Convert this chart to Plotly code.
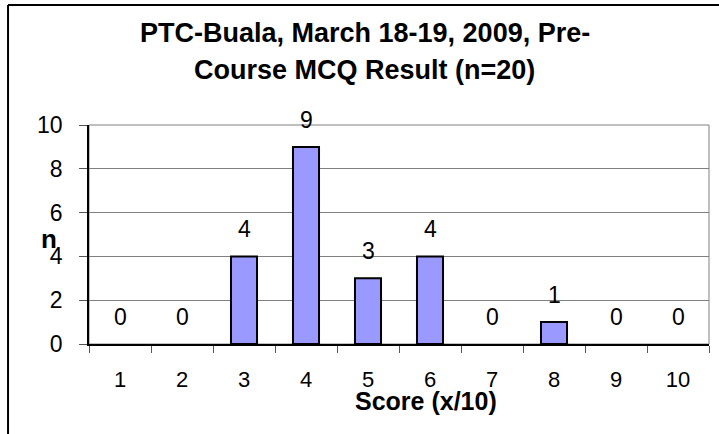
import plotly.graph_objects as go

scores = ["1", "2", "3", "4", "5", "6", "7", "8", "9", "10"]
counts = [0, 0, 4, 9, 3, 4, 0, 1, 0, 0]
y_ticks = [0, 2, 4, 6, 8, 10]

title_line1 = "PTC-Buala, March 18-19, 2009, Pre-"
title_line2 = "Course MCQ Result (n=20)"
x_title = "Score (x/10)"
y_title = "n"

FONT = "Liberation Sans"

fig = go.Figure()
fig.add_trace(go.Bar(
    x=scores, y=counts,
    marker=dict(color="#9999FF",
                line=dict(color="black", width=[2 if c > 0 else 0 for c in counts])),
    showlegend=False, hoverinfo="x+y",
))

annotations = []
for i, c in enumerate(counts):
    annotations.append(dict(x=i, y=c, xref="x", yref="y", text=str(c),
                            showarrow=False, yanchor="middle", yshift=27,
                            font=dict(family=FONT, size=23, color="black")))

annotations += [
    dict(x=0.445, y=1.422, xref="paper", yref="paper", text="<b>%s</b>" % title_line1,
         showarrow=False, xanchor="center", yanchor="middle",
         font=dict(family=FONT, size=27, color="black")),
    dict(x=0.445, y=1.25, xref="paper", yref="paper", text="<b>%s</b>" % title_line2,
         showarrow=False, xanchor="center", yanchor="middle",
         font=dict(family=FONT, size=27, color="black")),
    dict(x=0.5435, y=-0.262, xref="paper", yref="paper", text="<b>%s</b>" % x_title,
         showarrow=False, xanchor="center", yanchor="middle",
         font=dict(family=FONT, size=25, color="black")),
    dict(x=-0.0645, y=0.478, xref="paper", yref="paper", text="<b>%s</b>" % y_title,
         showarrow=False, xanchor="center", yanchor="middle",
         font=dict(family=FONT, size=26, color="black")),
]

shapes = [
    dict(type="rect", xref="paper", yref="paper", x0=0, x1=1, y0=0, y1=1,
         line=dict(color="#808080", width=1), layer="below"),
    dict(type="line", xref="paper", yref="paper", x0=-0.1306, x1=1.1, y0=1.548, y1=1.548,
         line=dict(color="black", width=2)),
    dict(type="line", xref="paper", yref="paper", x0=-0.1306, x1=-0.1306, y0=1.548, y1=-0.5,
         line=dict(color="black", width=2)),
]

fig.update_layout(
    width=719, height=434,
    margin=dict(l=89, r=10, t=125, b=90, pad=0),
    paper_bgcolor="white", plot_bgcolor="white",
    bargap=0.58,
    font=dict(family=FONT, size=23, color="black"),
    annotations=annotations,
    shapes=shapes,
    xaxis=dict(type="category", categoryorder="array", categoryarray=scores,
               tickson="boundaries", ticks="outside", ticklen=7, tickcolor="#555555",
               tickwidth=1, showline=True, linecolor="black", linewidth=1.5,
               showgrid=False, ticklabelstandoff=15,
               tickfont=dict(family=FONT, size=22, color="black")),
    yaxis=dict(range=[0, 10], tickvals=y_ticks, ticks="outside", ticklen=8,
               tickcolor="#555555", showline=True, linecolor="black", linewidth=1.5,
               showgrid=True, gridcolor="#808080", gridwidth=1, zeroline=False,
               ticklabelstandoff=12,
               tickfont=dict(family=FONT, size=23, color="black")),
)

fig.write_html("out.html", config={"displayModeBar": False},
               post_script="document.body.style.margin='0';")
